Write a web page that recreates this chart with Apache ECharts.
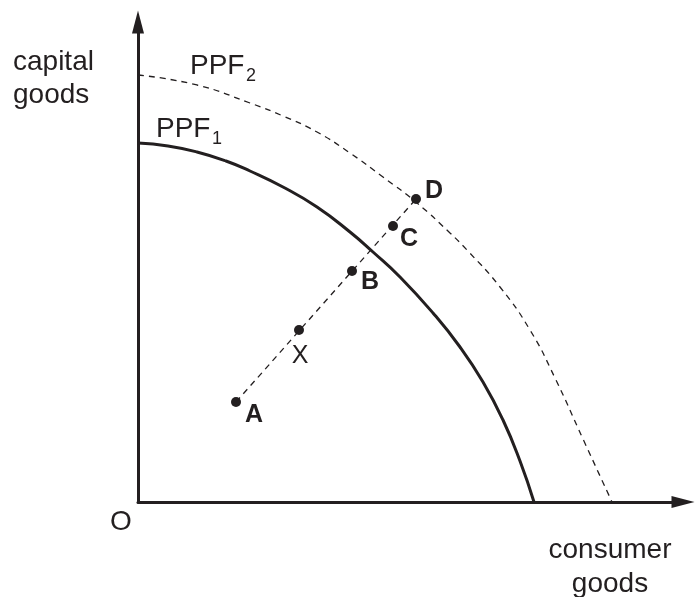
<!DOCTYPE html>
<html>
<head>
<meta charset="utf-8">
<script src="https://cdn.jsdelivr.net/npm/echarts@6/dist/echarts.min.js"></script>
<style>
  html, body { margin: 0; padding: 0; background: #fff; }
  #main { width: 695px; height: 597px; }
</style>
</head>
<body>
<div id="main"></div>
<script>
// curve points (x = consumer goods, y = capital goods)
var ppf1 = [[0,359],[30,356],[59,350],[88,341],[112,331],[145,315],[179,295],[212,270],[235,250],
            [262,225],[295,189],[322,155],[345,120],[365,82],[382,41],[396,0]];
var ppf2 = [[0,427],[59,417],[112,399],[145,386],[179,370],[212,349],[245,325],[279,299],
            [312,269],[329,252],[362,215],[392,172],[417,124],[445,63],[474,0]];
var pointNames = ['A', 'X', 'B', 'C', 'D'];
var pointValues = [[98,100],[161,172],[214,231],[255,276],[278,303]];
var ink = '#231f20';
var font = '"Liberation Sans", Arial, sans-serif';

var chartDom = document.getElementById('main');
var myChart = echarts.init(chartDom);

// where each letter sits relative to its dot
var labelOffsets = { A: [18, 13], X: [1, 26], B: [18, 11], C: [16, 13], D: [18, -8] };

var option = {
  animation: false,
  grid: { left: 138, right: 12, top: 22, bottom: 95 },
  xAxis: {
    type: 'value', min: 0, max: 545,
    axisLine: { show: true, onZero: false, symbol: ['none', 'triangle'], symbolSize: [12, 23],
      lineStyle: { color: ink, width: 3 } },
    axisTick: { show: false }, axisLabel: { show: false }, splitLine: { show: false }
  },
  yAxis: {
    type: 'value', min: 0, max: 480,
    axisLine: { show: true, onZero: false, symbol: ['none', 'triangle'], symbolSize: [12, 23],
      lineStyle: { color: ink, width: 3 } },
    axisTick: { show: false }, axisLabel: { show: false }, splitLine: { show: false }
  },
  series: [
    {
      type: 'line', data: ppf1, smooth: 0.5, showSymbol: false,
      lineStyle: { color: ink, width: 3 }
    },
    {
      type: 'line', data: ppf2, smooth: 0.5, showSymbol: false,
      lineStyle: { color: ink, width: 1.3, type: [6, 5] }
    },
    {
      type: 'line', data: [pointValues[0], pointValues[4]], showSymbol: false,
      lineStyle: { color: ink, width: 1.3, type: [6, 5] }
    },
    {
      type: 'scatter', symbolSize: 10, itemStyle: { color: ink, opacity: 1 },
      data: pointNames.map(function (n, i) {
        return {
          name: n, value: pointValues[i],
          label: {
            show: true, formatter: n, position: 'inside', offset: labelOffsets[n],
            color: ink, fontFamily: font, fontSize: 25, textBorderWidth: 0,
            fontWeight: n === 'X' ? 'normal' : 'bold'
          }
        };
      })
    }
  ],
  graphic: [
    { type: 'text', left: 13, top: 46, style: { text: 'capital\ngoods', font: '28px ' + font, fill: ink, lineHeight: 33 } },
    { type: 'text', x: 610, y: 533, style: { text: 'consumer\ngoods', font: '28px ' + font, fill: ink, lineHeight: 34, align: 'center' } },
    { type: 'text', left: 110, top: 508, style: { text: 'O', font: '28px ' + font, fill: ink } },
    { type: 'text', left: 156, top: 115, style: { text: 'PPF', font: '28px ' + font, fill: ink } },
    { type: 'text', left: 212, top: 130, style: { text: '1', font: '18px ' + font, fill: ink } },
    { type: 'text', left: 190, top: 52, style: { text: 'PPF', font: '28px ' + font, fill: ink } },
    { type: 'text', left: 246, top: 67, style: { text: '2', font: '18px ' + font, fill: ink } }
  ]
};
myChart.setOption(option);
</script>
</body>
</html>
